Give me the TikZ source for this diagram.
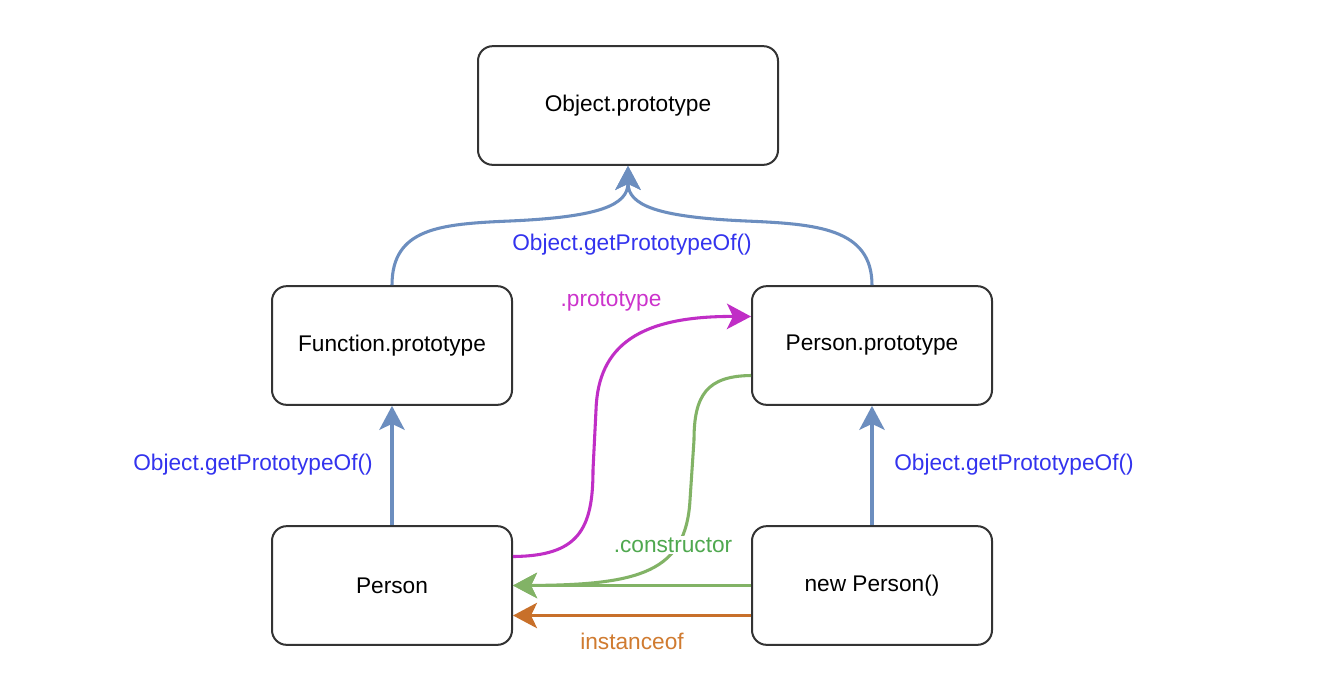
\documentclass[tikz,border=0pt]{standalone}
\usepackage{fontspec}
\setmainfont{Liberation Sans}
\usetikzlibrary{arrows.meta,calc}
\definecolor{boxc}{HTML}{333333}
\definecolor{blline}{HTML}{6C8EBF}
\definecolor{bltext}{HTML}{3333EE}
\definecolor{magline}{HTML}{C02EC6}
\definecolor{magtext}{HTML}{CC33CC}
\definecolor{grline}{HTML}{82B366}
\definecolor{grtext}{HTML}{4FA84F}
\definecolor{orline}{HTML}{C8702A}
\definecolor{ortext}{HTML}{D07B30}
\begin{document}
\begin{tikzpicture}[x=0.75pt,y=-0.75pt,
  box/.style={draw=boxc, line width=1.5pt, rounded corners=11pt, minimum width=180pt, minimum height=89pt, inner sep=0pt, fill=white, font=\fontsize{17}{20}\selectfont},
  lbl/.style={font=\fontsize{17}{20}\selectfont, inner sep=1pt},
  conn/.style={line width=2.3pt, -{Stealth[length=18pt,width=19pt,inset=4.5pt]}}
]
\useasboundingbox (0,0) rectangle (1328,686);
\fill[white] (0,0) rectangle (1328,686);

\node[box, minimum width=225pt] (obj) at (628,105.5) {Object.prototype};
\node[box] (func) at (392,345.5) {Function.prototype};
\node[box] (pproto) at (872,345.5) {Person.prototype};
\node[box] (pers) at (392,585.5) {Person};
\node[box] (newp) at (872,585.5) {new Person()};

% blue curves to Object.prototype
\draw[conn, blline] (func.north) .. controls (392,228) and (440,224) .. (510,221) .. controls (600,217) and (628,205) .. (obj.south);
\draw[conn, blline] (pproto.north) .. controls (872,228) and (816,224) .. (746,221) .. controls (656,217) and (628,205) .. (obj.south);
\node[lbl, text=bltext] (l1) at (632,245) {Object.getPrototypeOf()};

% vertical blue arrows
\draw[conn, blline] (pers.north) -- (func.south);
\draw[conn, blline] (newp.north) -- (pproto.south);
\node[lbl, text=bltext] (l2) at (253,465) {Object.getPrototypeOf()};
\node[lbl, text=bltext] (l3) at (1014,465) {Object.getPrototypeOf()};

% magenta .prototype
\coordinate (ma) at ($(pers.east)+(0,-29)$);
\coordinate (mb) at ($(pproto.west)+(0,-29)$);
\draw[conn, magline] (ma) .. controls (578,556) and (593,530) .. (593,470) -- (596,410) .. controls (598,345) and (640,316) .. (mb);
\node[lbl, text=magtext] (l4) at (611,302) {.prototype};

% green .constructor
\coordinate (ga) at ($(pproto.west)+(0,30)$);
\draw[conn, grline] (ga) .. controls (707,376) and (694,395) .. (694,440) -- (690,500) .. controls (686,572) and (640,585) .. (pers.east);
\draw[conn, grline] (newp.west) -- (pers.east);
\node[lbl, text=grtext, fill=white] (l5) at (673,545) {.constructor};

% orange instanceof
\coordinate (oa) at ($(newp.west)+(0,30)$);
\coordinate (ob) at ($(pers.east)+(0,30)$);
\draw[conn, orline] (oa) -- (ob);
\node[lbl, text=ortext] (l6) at (632,641) {instanceof};
\end{tikzpicture}
\end{document}
